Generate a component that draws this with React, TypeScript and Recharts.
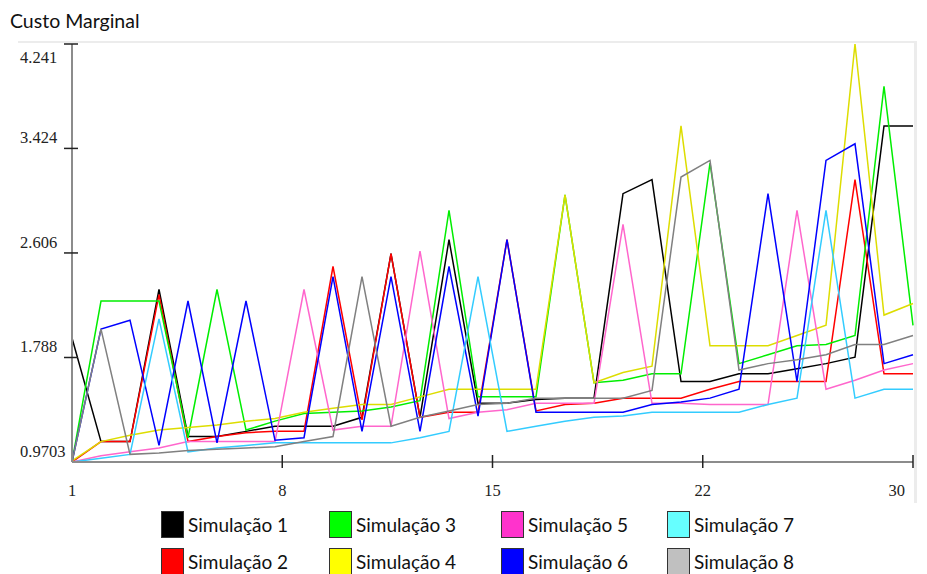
import { LineChart, Line, XAxis, YAxis } from "recharts";

const steps = [
  1, 2, 3, 4, 5, 6, 7, 8, 9, 10, 11, 12, 13, 14, 15, 16, 17, 18, 19, 20, 21,
  22, 23, 24, 25, 26, 27, 28, 29, 30,
];

const sim1 = [
  1.94, 1.13, 1.13, 2.32, 1.17, 1.17, 1.21, 1.25, 1.25, 1.25, 1.32, 2.6, 1.32,
  2.71, 1.43, 1.43, 1.46, 1.47, 1.47, 3.07, 3.18, 1.6, 1.6, 1.66, 1.66, 1.7,
  1.74, 1.79, 3.6, 3.6,
];
const sim2 = [
  0.9703, 1.13, 1.13, 2.28, 1.13, 1.17, 1.2, 1.21, 1.21, 2.5, 1.3, 2.6, 1.32,
  1.36, 1.36, 2.71, 1.37, 1.42, 1.43, 1.47, 1.47, 1.47, 1.54, 1.6, 1.6, 1.6,
  1.6, 3.18, 1.66, 1.66,
];
const sim3 = [
  0.9703, 2.23, 2.23, 2.23, 1.16, 2.32, 1.22, 1.29, 1.35, 1.36, 1.37, 1.4,
  1.45, 2.94, 1.48, 1.48, 1.48, 3.06, 1.59, 1.61, 1.66, 1.66, 3.31, 1.74, 1.81,
  1.88, 1.89, 1.96, 3.91, 2.04,
];
const sim4 = [
  0.98, 1.13, 1.18, 1.22, 1.24, 1.26, 1.29, 1.31, 1.36, 1.39, 1.42, 1.42, 1.48,
  1.54, 1.54, 1.54, 1.54, 3.06, 1.59, 1.67, 1.72, 3.6, 1.88, 1.88, 1.88, 1.96,
  2.04, 4.241, 2.12, 2.21,
];
const sim5 = [
  0.9703, 1.02, 1.05, 1.08, 1.13, 1.13, 1.13, 1.13, 2.32, 1.22, 1.25, 1.25,
  2.62, 1.31, 1.36, 1.38, 1.43, 1.43, 1.43, 2.83, 1.43, 1.43, 1.42, 1.42, 1.42,
  2.94, 1.54, 1.61, 1.69, 1.74,
];
const sim6 = [
  0.9703, 2.01, 2.08, 1.1, 2.23, 1.12, 2.23, 1.14, 1.16, 2.42, 1.21, 2.42, 1.21,
  2.5, 1.33, 2.71, 1.36, 1.36, 1.36, 1.36, 1.42, 1.44, 1.47, 1.54, 3.07, 1.6,
  3.33, 3.46, 1.74, 1.81,
];
const sim7 = [
  0.9703, 1.0, 1.03, 2.09, 1.05, 1.08, 1.1, 1.12, 1.12, 1.12, 1.12, 1.12, 1.16,
  1.21, 2.42, 1.21, 1.25, 1.29, 1.32, 1.33, 1.36, 1.36, 1.36, 1.36, 1.42, 1.47,
  2.94, 1.47, 1.54, 1.54,
];
const sim8 = [
  0.9703, 2.01, 1.03, 1.04, 1.06, 1.07, 1.08, 1.09, 1.13, 1.17, 2.42, 1.25,
  1.32, 1.37, 1.42, 1.43, 1.47, 1.47, 1.47, 1.47, 1.53, 3.2, 3.33, 1.69, 1.74,
  1.77, 1.81, 1.89, 1.89, 1.96,
];

const seriesNames = [
  "Simulação 1",
  "Simulação 2",
  "Simulação 3",
  "Simulação 4",
  "Simulação 5",
  "Simulação 6",
  "Simulação 7",
  "Simulação 8",
];
const seriesValues = [sim1, sim2, sim3, sim4, sim5, sim6, sim7, sim8];
const lineColors = [
  "#000000",
  "#ff0000",
  "#00ee00",
  "#dddd00",
  "#ff66cc",
  "#0000ff",
  "#33ccff",
  "#808080",
];
const swatchColors = [
  "#000000",
  "#ff0000",
  "#00ff00",
  "#ffff00",
  "#ff33cc",
  "#0000ff",
  "#66ffff",
  "#c0c0c0",
];

const xTicks = [1, 8.25, 15.5, 22.75, 30];
const yTicks = [0.9703, 1.788, 2.606, 3.424, 4.241];

const data = steps.map((s, i) => {
  const row: any = { step: s };
  seriesValues.forEach((vals, k) => {
    row["s" + (k + 1)] = vals[i];
  });
  return row;
});

const serif = "'Liberation Serif', 'DejaVu Serif', serif";

function XTick(props: any) {
  const { x, y, payload, index, visibleTicksCount } = props;
  const last = index === visibleTicksCount - 1;
  return (
    <g>
      {index > 0 && (
        <line x1={x} x2={x} y1={y - 7} y2={y + 6} stroke="#222" strokeWidth={1.5} />
      )}
      <text
        x={last ? x - 8 : x}
        y={y}
        dy={34}
        textAnchor={last ? "end" : "middle"}
        fontFamily={serif}
        fontSize={16.5}
        fill="#222"
      >
        {Math.floor(payload.value)}
      </text>
    </g>
  );
}

function YTick(props: any) {
  const { x, y, payload, index, visibleTicksCount } = props;
  const last = index === visibleTicksCount - 1;
  return (
    <g>
      {index > 0 && (
        <line x1={x - 8} x2={x + 6} y1={y} y2={y} stroke="#222" strokeWidth={1.5} />
      )}
      <text
        x={x - 52}
        y={y}
        dy={last ? 19 : -5}
        textAnchor="start"
        fontFamily={serif}
        fontSize={16.5}
        fill="#222"
      >
        {payload.value}
      </text>
    </g>
  );
}

export default function App() {
  return (
    <div
      style={{
        position: "absolute",
        left: 0,
        top: 0,
        width: 927,
        height: 574,
        background: "#fff",
        overflow: "hidden",
      }}
    >
      <div
        style={{
          position: "absolute",
          left: 10,
          top: 9,
          fontFamily: "Lato, 'Open Sans', sans-serif",
          fontSize: 19.5,
          color: "#111",
        }}
      >
        Custo Marginal
      </div>
      <div
        style={{
          position: "absolute",
          left: 18,
          top: 41,
          width: 896,
          height: 460,
          borderTop: "2px solid #ececec",
          borderRight: "3px solid #ececec",
        }}
      />
      <div style={{ position: "absolute", left: 0, top: 0 }}>
        <LineChart
          width={927}
          height={500}
          data={data}
          margin={{ top: 44, right: 14, left: 0, bottom: 0 }}
        >
          <XAxis
            dataKey="step"
            type="number"
            domain={[1, 30]}
            ticks={xTicks}
            interval={0}
            height={38}
            tickSize={0}
            tickMargin={0}
            tickLine={false}
            axisLine={{ stroke: "#8c8c8c", strokeWidth: 2 }}
            tick={(p: any) => <XTick {...p} />}
          />
          <YAxis
            type="number"
            domain={[0.9703, 4.241]}
            ticks={yTicks}
            interval={0}
            width={72}
            tickSize={0}
            tickMargin={0}
            tickLine={false}
            allowDataOverflow
            axisLine={{ stroke: "#8c8c8c", strokeWidth: 2 }}
            tick={(p: any) => <YTick {...p} />}
          />
          {seriesNames.map((name, k) => (
            <Line
              key={name}
              name={name}
              dataKey={"s" + (k + 1)}
              type="linear"
              stroke={lineColors[k]}
              strokeWidth={1.5}
              dot={false}
              isAnimationActive={false}
            />
          ))}
        </LineChart>
      </div>
      <div
        style={{
          position: "absolute",
          left: 161,
          top: 510,
          display: "grid",
          gridTemplateColumns: "168px 172px 166px 170px",
          gridTemplateRows: "37px 37px",
          gridAutoFlow: "column",
          fontFamily: "Lato, 'Open Sans', sans-serif",
          fontSize: 19,
          color: "#111",
        }}
      >
        {seriesNames.map((name, k) => (
          <div key={name} style={{ display: "flex", alignItems: "center", height: 28 }}>
            <span
              style={{
                display: "inline-block",
                width: 21,
                height: 25,
                background: swatchColors[k],
                border: "1px solid #333",
                marginRight: 4,
              }}
            />
            <span>{name}</span>
          </div>
        ))}
      </div>
    </div>
  );
}
